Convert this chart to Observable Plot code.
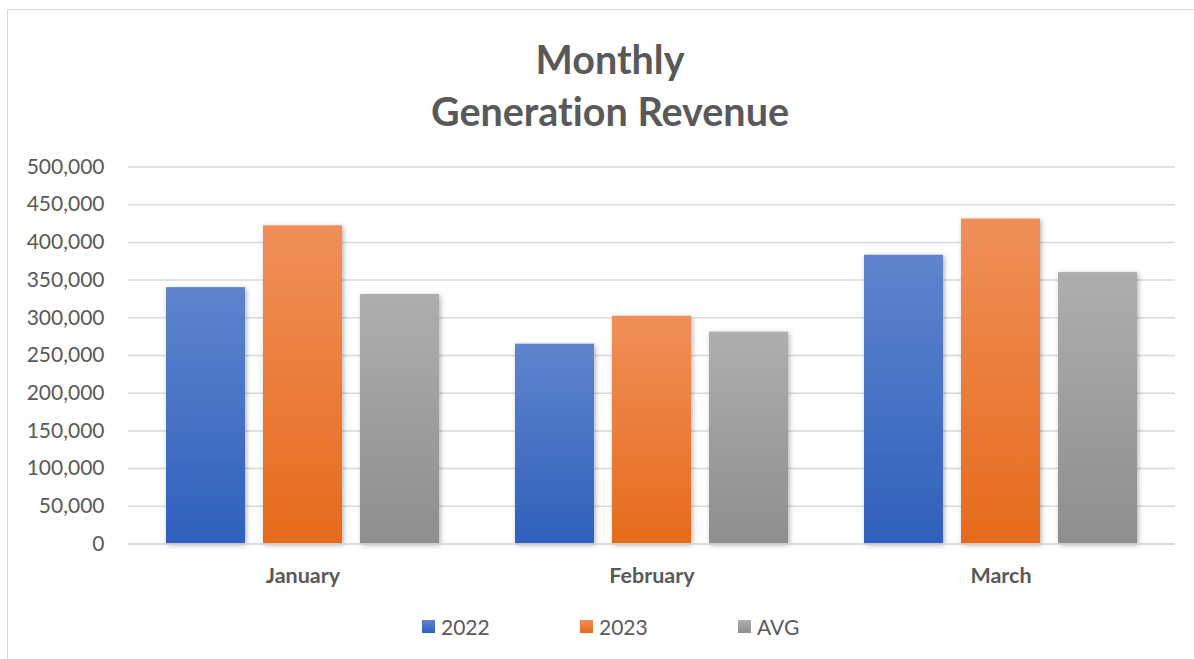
<!DOCTYPE html>
<html>
<head>
<meta charset="utf-8">
<script src="https://cdn.jsdelivr.net/npm/d3@7"></script>
<script src="https://cdn.jsdelivr.net/npm/@observablehq/plot@0.6"></script>
<style>
  body { margin: 0; background: #fff; font-family: Lato, "Open Sans", sans-serif; font-variant-ligatures: none; }
  #frame { position: absolute; left: 7px; top: 9px; width: 1200px; height: 660px; border: 1px solid #d9d9d9; box-sizing: border-box; }
  #title { position: absolute; left: 310px; width: 600px; top: 33px; text-align: center; color: #595959; font-weight: bold; font-size: 39.5px; line-height: 52px; font-variant-ligatures: none; }
  #chart { position: absolute; left: 0; top: 150px; }
  #legend { position: absolute; top: 614px; left: 0; width: 1194px; height: 28px; }
  .li { position: absolute; display: flex; align-items: center; color: #595959; font-size: 21px; }
  .sw { width: 13px; height: 13px; margin-right: 6px; }
  g[aria-label="bar"] rect { filter: url(#shadow); }
</style>
</head>
<body>
<div id="frame"></div>
<div id="title">Monthly<br>Generation Revenue</div>
<div id="chart"></div>
<div id="legend"></div>
<script>
const months = ["January", "February", "March"];
const series = ["2022", "2023", "AVG"];
const values2022 = [340000, 265000, 383000];
const values2023 = [422000, 302000, 431000];
const valuesAvg = [331000, 281000, 360000];
const yTicks = [0, 50000, 100000, 150000, 200000, 250000, 300000, 350000, 400000, 450000, 500000];
const gradTop = ["#5f84cd", "#f18f5a", "#aeaeae"];
const gradBottom = ["#2f60bc", "#e56b1b", "#8e8e8e"];

const seriesValues = [values2022, values2023, valuesAvg];
const data = [];
months.forEach((m, i) => series.forEach((s, j) => data.push({month: m, series: s, value: seriesValues[j][i]})));

const gradIds = series.map((s, j) => "grad" + j);

const defs = () => {
  const d = d3.create("svg:defs");
  series.forEach((s, j) => {
    const g = d.append("linearGradient").attr("id", gradIds[j]).attr("x1", 0).attr("y1", 0).attr("x2", 0).attr("y2", 1);
    g.append("stop").attr("offset", "0%").attr("stop-color", gradTop[j]);
    g.append("stop").attr("offset", "100%").attr("stop-color", gradBottom[j]);
  });
  const f = d.append("filter").attr("id", "shadow").attr("x", "-20%").attr("y", "-20%").attr("width", "140%").attr("height", "140%");
  f.append("feDropShadow").attr("dx", 1.5).attr("dy", 1.5).attr("stdDeviation", 2.5).attr("flood-color", "#000").attr("flood-opacity", 0.3);
  return d.node();
};

const chart = Plot.plot({
  width: 1194,
  height: 440,
  marginTop: 16.5,
  marginBottom: 46.5,
  marginLeft: 127,
  marginRight: 19,
  style: {fontFamily: "Lato, 'Open Sans', sans-serif", color: "#595959", background: "transparent"},
  fx: {domain: months, padding: 0, label: null},
  x: {domain: series, paddingInner: 0.186, paddingOuter: 0.39, axis: null},
  y: {domain: [0, 500000], label: null},
  color: {domain: series, range: gradIds.map(id => `url(#${id})`)},
  marks: [
    defs,
    Plot.gridY(yTicks, {stroke: "#d9d9d9", strokeOpacity: 1, strokeWidth: 1.5}),
    Plot.axisY({ticks: yTicks, tickSize: 0, tickPadding: 24, tickFormat: d3.format(","), fontSize: 21, fill: "#595959", label: null}),
    Plot.axisFx({anchor: "bottom", tickSize: 0, tickPadding: 23.5, fontSize: 21.5, fontWeight: "bold", fill: "#595959", label: null}),
    Plot.barY(data, {fx: "month", x: "series", y: "value", fill: "series"}),
    Plot.ruleY([0], {stroke: "#d9d9d9", strokeWidth: 1.5})
  ]
});
document.getElementById("chart").appendChild(chart);

const legendX = [422, 580, 738];
const legend = document.getElementById("legend");
series.forEach((s, j) => {
  const li = document.createElement("div");
  li.className = "li";
  li.style.left = legendX[j] + "px";
  li.innerHTML = `<div class="sw" style="background: linear-gradient(${gradTop[j]}, ${gradBottom[j]})"></div><span>${s}</span>`;
  legend.appendChild(li);
});
</script>
</body>
</html>
